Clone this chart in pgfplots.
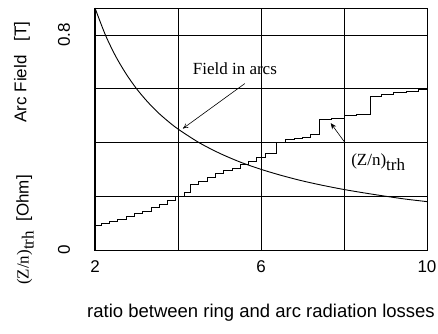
\documentclass[border=0pt]{standalone}
\usepackage{fontspec}
\setmainfont{Liberation Serif}
\setsansfont{Liberation Sans}
\usepackage{pgfplots}
\pgfplotsset{compat=1.18}
\usetikzlibrary{arrows.meta}
\newcommand{\sfbig}{\fontsize{17}{20}\sffamily\selectfont}
\newcommand{\rmbig}{\fontsize{17}{20}\rmfamily\selectfont}
\begin{document}
\begin{tikzpicture}[x=1pt,y=1pt]
\begin{axis}[
  scale only axis, width=332pt, height=242pt,
  xmin=2, xmax=10, ymin=0, ymax=0.9,
  xtick={2,4,6,8,10}, xticklabels={2,,6,,10},
  ytick={0,0.2,0.4,0.6,0.8}, yticklabels={0,,,,0.8},
  grid=major, major grid style={black, line width=0.8pt},
  major tick length=0pt,
  axis line style={black, line width=1pt},
  /pgf/number format/assume math mode=true,
  ticklabel style={font=\sfbig},
  xticklabel style={anchor=center, yshift=-17pt},
  yticklabel style={rotate=90, anchor=center, yshift=31pt},
  clip=false,
]
\addplot[black, line width=0.9pt, smooth] coordinates {
(2,0.9) (2.25,0.8) (2.5,0.72) (2.75,0.655) (3,0.6) (3.25,0.554) (3.5,0.514)
(3.75,0.48) (4,0.45) (4.5,0.4) (5,0.36) (5.5,0.327) (6,0.3) (6.5,0.277)
(7,0.257) (7.5,0.24) (8,0.225) (8.5,0.212) (9,0.2) (9.5,0.189) (10,0.18)
};
\addplot[black, line width=0.9pt, const plot] coordinates {
(2.0,0.093) (2.15,0.10) (2.35,0.107) (2.55,0.115) (2.75,0.125) (2.95,0.135)
(3.15,0.145) (3.35,0.157) (3.55,0.17) (3.75,0.185) (3.95,0.20) (4.15,0.215)
(4.3,0.245) (4.5,0.255) (4.7,0.268) (4.9,0.285) (5.1,0.295) (5.3,0.305)
(5.5,0.32) (5.7,0.33) (5.9,0.345) (6.1,0.36) (6.38,0.40) (6.6,0.41)
(6.8,0.415) (7.0,0.42) (7.2,0.43) (7.42,0.485) (7.7,0.49) (8.0,0.50)
(8.3,0.505) (8.63,0.57) (8.9,0.58) (9.2,0.585) (9.5,0.59) (9.8,0.598) (10,0.60)
};
\draw[-{To[length=5pt,width=5pt]}, line width=0.6pt] (axis cs:5.61,0.619) -- (axis cs:4.12,0.452);
\draw[-{Stealth[length=6pt,width=5pt]}, line width=0.6pt] (axis cs:8.02,0.40) -- (axis cs:7.68,0.472);
\node[font=\rmbig, inner sep=0pt] at (axis cs:5.37,0.674) {Field in arcs};
\node[font=\rmbig, inner sep=0pt, anchor=base west] at (axis cs:8.17,0.315) {(Z/n)\raisebox{-5pt}{trh}};
\end{axis}
\node[rotate=90, font=\sfbig] at (-73,178) {Arc Field\ \ \ [T]};
\node[rotate=90, font=\sfbig] at (-70,20) {{\rmfamily (Z/n)\raisebox{-5pt}{trh}}\ \ [Ohm]};
\node[font=\fontsize{18.5}{22}\sffamily\selectfont] at (166,-63) {ratio between ring and arc radiation losses};
\pgfresetboundingbox
\path (-95,-83) rectangle (343,250);
\end{tikzpicture}
\end{document}
